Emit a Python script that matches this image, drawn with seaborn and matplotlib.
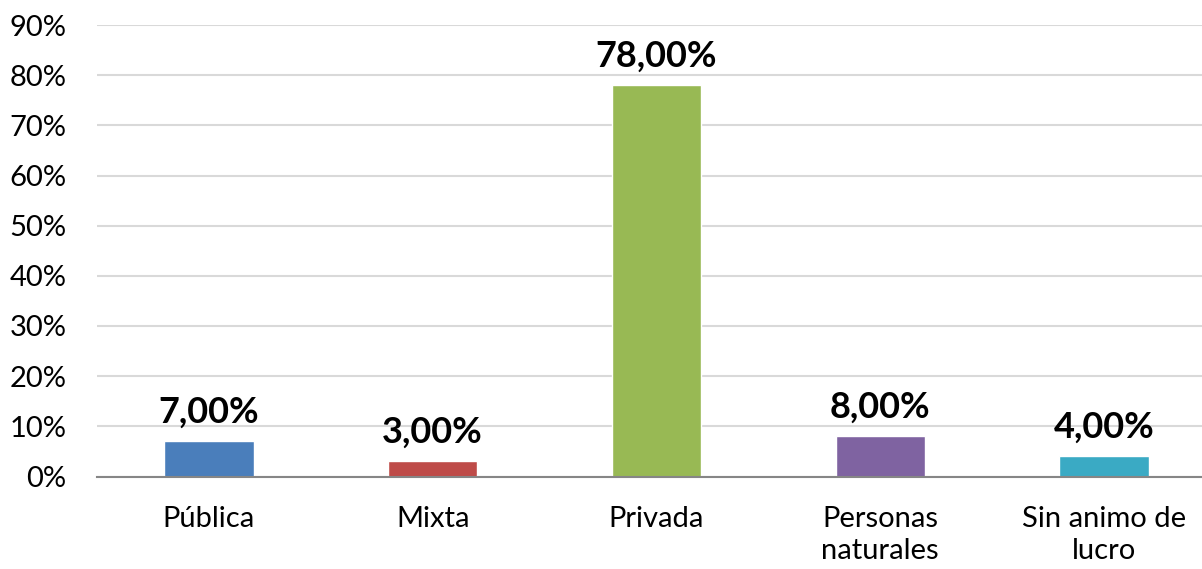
import matplotlib
matplotlib.use("Agg")
import matplotlib.pyplot as plt
import seaborn as sns
import pandas as pd

categories = ["Pública", "Mixta", "Privada", "Personas\nnaturales", "Sin animo de\nlucro"]
values = [7.0, 3.0, 78.0, 8.0, 4.0]
colors = ["#4A7EBB", "#BE4B48", "#98B954", "#7F63A1", "#3AAAC4"]
yticks = [0, 10, 20, 30, 40, 50, 60, 70, 80, 90]
ytick_labels = [f"{t}%" for t in yticks]
value_labels = [f"{v:.2f}".replace(".", ",") + "%" for v in values]

sns.set_style("white")
plt.rcParams['font.family'] = ['Lato', 'DejaVu Sans']

df = pd.DataFrame({"cat": categories, "val": values})

fig = plt.figure(figsize=(12.02, 5.69), dpi=100)
ax = fig.add_axes([97/1202, 1 - 476.5/569, (1216-97)/1202, (476.5-25)/569])

sns.barplot(data=df, x="cat", y="val", hue="cat", palette=colors, width=0.4,
            legend=False, ax=ax, saturation=1)

ax.set_xlim(-0.5, 4.5)
ax.set_ylim(0, 90)
ax.set_yticks(yticks)
ax.set_yticklabels(ytick_labels, fontsize=21, color="#000000")
for t in ax.get_xticklabels():
    t.set_linespacing(1.3)
ax.tick_params(axis="x", labelsize=21, colors="#000000", length=0, pad=21)
ax.tick_params(axis="y", length=0, pad=22)
ax.set_xlabel("")
ax.set_ylabel("")
ax.yaxis.grid(True, color="#D9D9D9", linewidth=1.5)
ax.set_axisbelow(True)
for s in ["top", "right", "left"]:
    ax.spines[s].set_visible(False)
ax.spines["bottom"].set_color("#868686")
ax.spines["bottom"].set_linewidth(1.5)
ax.spines["bottom"].set_zorder(3)

for i, (v, lab) in enumerate(zip(values, value_labels)):
    ax.annotate(lab, xy=(i, v), xytext=(0, 9), textcoords="offset points",
                ha="center", va="bottom", fontsize=26, fontweight="bold", color="#000000")

fig.savefig("out.png", dpi=100)
